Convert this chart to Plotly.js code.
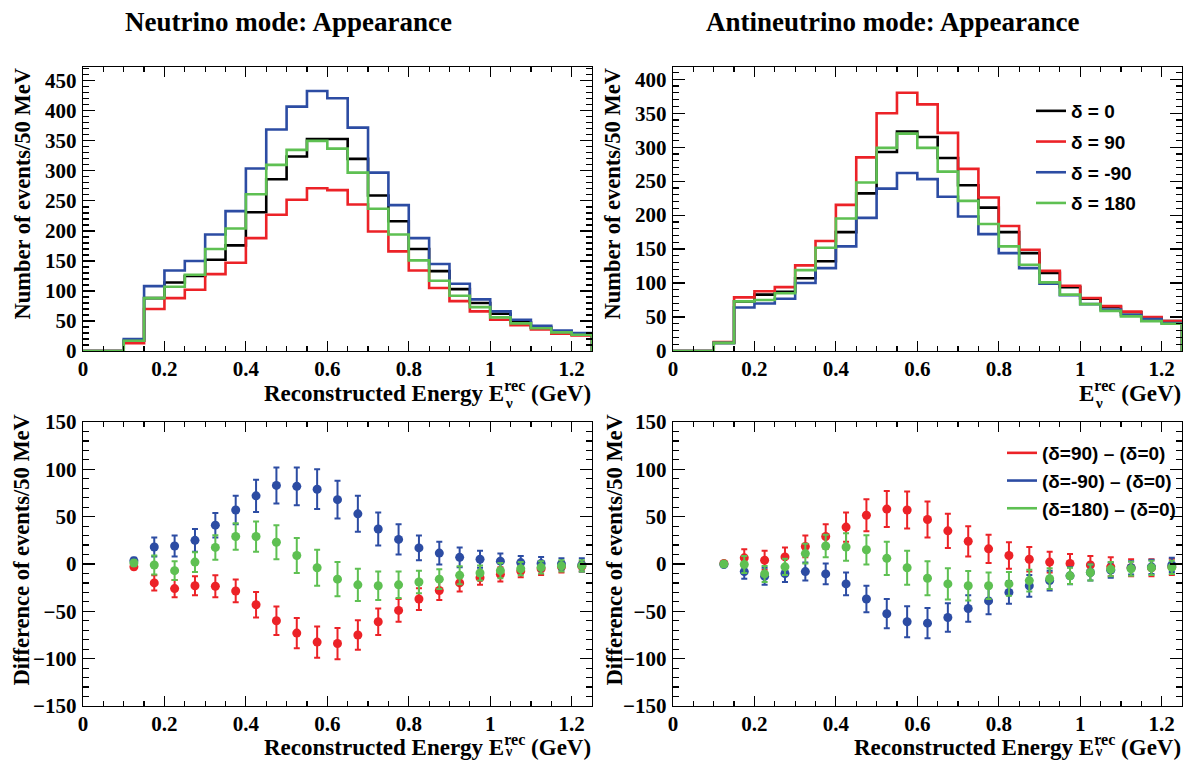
<!DOCTYPE html>
<html><head><meta charset="utf-8">
<script src="https://cdn.plot.ly/plotly-3.0.1.min.js"></script>
<style>html,body{margin:0;padding:0;background:#fff}#plot{width:1186px;height:760px}</style>
</head><body><div id="plot"></div><script>
// ---- data ----
const binLow = [0,0.05,0.1,0.15,0.2,0.25,0.3,0.35,0.4,0.45,0.5,0.55,0.6,0.65,0.7,0.75,0.8,0.85,0.9,0.95,1.0,1.05,1.1,1.15,1.2];
const binWidth = 0.05;
// Neutrino mode histograms
const nuD0   = [0,0,17,88,114,125,152,176,231,286,324,353,353,320,259,216,170,133,103,80,62,48,39,32,27];
const nuD90  = [0,0,13,70,88,102,128,147,188,227,252,271,268,244,199,166,134,105,83,66,52,43,36,29,26];
const nuDm90 = [0,0,20,108,134,150,194,233,304,369,407,433,421,372,297,243,188,145,112,86,66,52,42,34,30];
const nuD180 = [0,0,17,88,107,127,170,204,261,310,335,350,337,297,237,194,151,117,92,73,56,46,38,31,27];
// Antineutrino mode histograms
const anD0   = [0,0,12,73,83,87,107,132,175,232,293,323,315,284,244,211,175,144,115,94,77,65,57,49,44];
const anD90  = [0,0,13,79,88,94,126,162,215,285,350,380,363,321,268,226,184,149,118,96,78,66,58,50,44];
const anDm90 = [0,0,12,64,70,77,100,122,154,196,239,262,253,227,198,172,144,122,99,82,69,61,53,47,41];
const anD180 = [0,0,12,73,75,85,119,152,195,248,299,320,299,264,221,187,154,127,101,83,69,59,51,44,40];
// Differences (bin centres)
const diffX = [0.125,0.175,0.225,0.275,0.325,0.375,0.425,0.475,0.525,0.575,0.625,0.675,0.725,0.775,0.825,0.875,0.925,0.975,1.025,1.075,1.125,1.175,1.225];
const nuDiff90   = [-3,-20,-26,-23,-23.5,-28.5,-43,-60,-73,-82.5,-84,-75,-61,-49,-37,-28,-20,-14.5,-11,-7.5,-5,-3,-2.5];
const nuErr90    = [2.5,8,9,10,11.5,12,13.5,15,16,16.5,16.5,15.5,14,12,11.5,10,9,7.5,7.5,6.5,6.5,6,5.5];
const nuDiffM90  = [3.5,18,19,25,41,57,72,83,82,79,68,53,37,26,17,11.5,7,5,3,1.5,0.5,0,-1];
const nuErrM90   = [3,10,11,12,13,15,17,19,20,21,20,19,17.5,16,13,12,10.5,9,8,7,7,6,7];
const nuDiff180  = [1,-1,-7,2,17.5,29,29,23,9,-4,-16,-22,-23,-22,-19,-16,-12,-9.5,-7,-5,-3.5,-2,-2];
const nuErr180   = [3,10,10,10.5,13,14,16,18,18.5,19,18,17,15,14,12,10.5,9.5,8,8,7,6.5,6,6];
const anDiff90   = [0.5,6.5,4,7.5,18.5,29,39,51.5,58,57,47,35,24,16,9,5,2,0.5,-1,-3,-4,-4,-3];
const anErr90    = [2,9,10,10,11.5,13,15.5,17,19,19.5,19,18,16,15,14,13,11,10,9.5,10,9,9,8.5];
const anDiffM90  = [-0.5,-8,-13,-10,-8,-10.5,-21,-37,-52.5,-61,-62.5,-56.5,-47,-39,-30,-23,-17.5,-12.5,-9,-6.5,-4,-3,-1];
const anErrM90   = [2,7.5,9,9,9.5,11,12,14,15.5,16.5,16,15,14,14,12,11.5,10.5,9,8.5,8,7,7.5,7.5];
const anDiff180  = [0,-0.5,-10.5,-3,11,19,18,15,6,-4,-15,-21,-23,-23,-21,-17.5,-15.5,-12.5,-9,-5.5,-5,-4,-3.5];
const anErr180   = [2,9,8.5,8.5,10.5,12,14.5,15.5,17.5,18,18,16.5,15.5,14,12.5,11.5,11,8.5,8.5,7.5,7.5,7.5,7];

const histLabels = ['δ = 0','δ = 90','δ = -90','δ = 180'];
const diffLabels = ['(δ=90) – (δ=0)','(δ=-90) – (δ=0)','(δ=180) – (δ=0)'];

// ---- style ----
const C = {k:'#000000', r:'#ec2227', b:'#2c4ca3', g:'#5ec052'};
const serif = 'Liberation Serif';
const sans = 'Liberation Sans';

function histTrace(vals, color, xa, ya, name, legendShow){
  const xs = binLow.concat([binLow[binLow.length-1]+binWidth, binLow[binLow.length-1]+binWidth]);
  const ys = vals.concat([vals[vals.length-1], 0]);
  return {x: xs, y: ys, type:'scatter', mode:'lines', line:{shape:'hv', color: color, width:2.6},
    xaxis: xa, yaxis: ya, name: name, showlegend: legendShow, legend:'legend', legendgroup: name, hoverinfo:'skip'};
}
function diffTrace(y, err, color, xa, ya){
  return {x: diffX, y: y, type:'scatter', mode:'markers', marker:{color: color, size: 9},
    error_y:{type:'data', array: err, visible:true, color: color, thickness:2, width:3},
    xaxis: xa, yaxis: ya, showlegend:false, hoverinfo:'skip'};
}
function legDummy(name, color){
  return {x:[null], y:[null], type:'scatter', mode:'lines', line:{color: color, width:2.6},
    xaxis:'x4', yaxis:'y4', name: name, showlegend:true, legend:'legend2', legendgroup:'d'+name};
}

const traces = [
  histTrace(nuD0, C.k, 'x','y', histLabels[0], false),
  histTrace(nuD90, C.r, 'x','y', histLabels[1], false),
  histTrace(nuDm90, C.b, 'x','y', histLabels[2], false),
  histTrace(nuD180, C.g, 'x','y', histLabels[3], false),
  histTrace(anD0, C.k, 'x2','y2', histLabels[0], true),
  histTrace(anD90, C.r, 'x2','y2', histLabels[1], true),
  histTrace(anDm90, C.b, 'x2','y2', histLabels[2], true),
  histTrace(anD180, C.g, 'x2','y2', histLabels[3], true),
  diffTrace(nuDiff90, nuErr90, C.r, 'x3','y3'),
  diffTrace(nuDiffM90, nuErrM90, C.b, 'x3','y3'),
  diffTrace(nuDiff180, nuErr180, C.g, 'x3','y3'),
  diffTrace(anDiff90, anErr90, C.r, 'x4','y4'),
  diffTrace(anDiffM90, anErrM90, C.b, 'x4','y4'),
  diffTrace(anDiff180, anErr180, C.g, 'x4','y4'),
  legDummy(diffLabels[0], C.r),
  legDummy(diffLabels[1], C.b),
  legDummy(diffLabels[2], C.g)
];

const W = 1186, H = 760;
const px = v => v / W, py = v => 1 - v / H;
const mkTickFont = () => ({family: 'Liberation Serif, serif', size: 21, color:'#000', weight:'bold'});

function xAxis(domain, anchor){
  return {domain: domain, anchor: anchor, range:[0,1.25], showgrid:false, zeroline:false,
    showline:true, linecolor:'#000', linewidth:1.3, mirror:'allticks', ticks:'inside', ticklen:10, tickwidth:1.2,
    tickcolor:'#000', dtick:0.2, tick0:0, tickfont: mkTickFont(), ticklabelstandoff:-2,
    minor:{dtick:0.05, ticks:'inside', ticklen:5, tickwidth:1.2, tickcolor:'#000', showgrid:false}};
}
function yAxis(domain, anchor, range){
  return {domain: domain, anchor: anchor, range: range, showgrid:false, zeroline:false,
    showline:true, linecolor:'#000', linewidth:1.3, mirror:'allticks', ticks:'inside', ticklen:12, tickwidth:1.2,
    tickcolor:'#000', dtick:50, tick0:0, tickfont: mkTickFont(), ticklabelstandoff:1,
    minor:{dtick:10, ticks:'inside', ticklen:6, tickwidth:1.2, tickcolor:'#000', showgrid:false}};
}

const xL = [px(83), px(592)], xR = [px(673), px(1182)];
const yT = [py(351), py(67)], yB = [py(706), py(422)];

const ann = [];
function addText(text, x, y, size, opts){
  ann.push(Object.assign({text: text, x: x, y: y, xref:'paper', yref:'paper', showarrow:false,
    font:{family: serif, size: size, color:'#000', weight:'bold'}}, opts||{}));
}
addText('Neutrino mode: Appearance', px(288), py(22), 27, {xanchor:'center', yanchor:'middle'});
addText('Antineutrino mode: Appearance', px(893), py(22), 27, {xanchor:'center', yanchor:'middle'});
addText('Number of events/50 MeV', px(22), py(67), 22.5, {textangle:-90, xanchor:'center', yanchor:'top'});
addText('Number of events/50 MeV', px(612), py(67), 22.5, {textangle:-90, xanchor:'center', yanchor:'top'});
addText('Difference of events/50 MeV', px(21), py(413), 22.5, {textangle:-90, xanchor:'center', yanchor:'top'});
addText('Difference of events/50 MeV', px(614), py(413), 22.5, {textangle:-90, xanchor:'center', yanchor:'top'});
addText('Reconstructed Energy E<sup>rec</sup> (GeV)', px(593), py(391), 23, {xanchor:'right', yanchor:'middle'});
addText('E<sup>rec</sup> (GeV)', px(1183), py(391), 23, {xanchor:'right', yanchor:'middle'});
addText('Reconstructed Energy E<sup>rec</sup> (GeV)', px(593), py(745), 23, {xanchor:'right', yanchor:'middle'});
addText('Reconstructed Energy E<sup>rec</sup> (GeV)', px(1183), py(745), 23, {xanchor:'right', yanchor:'middle'});
addText('ν', px(503), py(403), 15, {xanchor:'left', yanchor:'middle'});
addText('ν', px(1093), py(403), 15, {xanchor:'left', yanchor:'middle'});
addText('ν', px(503), py(751), 14, {xanchor:'left', yanchor:'middle'});
addText('ν', px(1093), py(751), 14, {xanchor:'left', yanchor:'middle'});

const layout = {
  width: W, height: H, margin:{l:0,r:0,t:0,b:0}, paper_bgcolor:'#fff', plot_bgcolor:'#fff',
  font:{family: serif, color:'#000', weight:'bold'},
  xaxis: xAxis(xL,'y'), yaxis: yAxis(yT,'x',[0,473]),
  xaxis2: xAxis(xR,'y2'), yaxis2: yAxis(yT,'x2',[0,418]),
  xaxis3: xAxis(xL,'y3'), yaxis3: yAxis(yB,'x3',[-150,150]),
  xaxis4: xAxis(xR,'y4'), yaxis4: yAxis(yB,'x4',[-150,150]),
  legend:{x: px(1031), y: py(92), xanchor:'left', yanchor:'top', bgcolor:'rgba(0,0,0,0)',
    font:{family: sans, size:19, color:'#000', weight:'bold'}, traceorder:'grouped', tracegroupgap:3, itemwidth:30},
  legend2:{x: px(1002), y: py(434), xanchor:'left', yanchor:'top', bgcolor:'rgba(0,0,0,0)',
    font:{family: sans, size:19, color:'#000', weight:'bold'}, traceorder:'grouped', tracegroupgap:0, itemwidth:30},
  annotations: ann,
  showlegend: true
};
Plotly.newPlot('plot', traces, layout, {staticPlot:true, displayModeBar:false});
</script></body></html>
